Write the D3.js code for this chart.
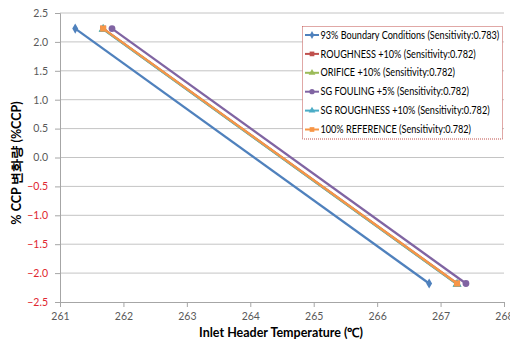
<!DOCTYPE html>
<html>
<head>
<meta charset="utf-8">
<script src="https://cdn.jsdelivr.net/npm/d3@7/dist/d3.min.js"></script>
<style>
  html, body { margin: 0; padding: 0; background: #fff; }
  svg { display: block; }
</style>
</head>
<body>
<svg id="chart" width="510" height="344"></svg>
<script>
// Series: CCP change (%) against inlet header temperature (°C)
const seriesNames = [
  "93% Boundary Conditions (Sensitivity:0.783)",
  "ROUGHNESS +10% (Sensitivity:0.782)",
  "ORIFICE +10% (Sensitivity:0.782)",
  "SG FOULING +5% (Sensitivity:0.782)",
  "SG ROUGHNESS +10% (Sensitivity:0.782)",
  "100% REFERENCE (Sensitivity:0.782)"
];
const seriesTemps = [
  [261.24, 266.82],
  [261.68, 267.26],
  [261.68, 267.26],
  [261.82, 267.40],
  [261.68, 267.26],
  [261.68, 267.26]
];
const seriesCCP = [
  [2.23, -2.18],
  [2.23, -2.18],
  [2.22, -2.19],
  [2.23, -2.18],
  [2.22, -2.19],
  [2.23, -2.18]
];
const seriesColors = ["#4F81BD", "#C0504D", "#9BBB59", "#8064A2", "#4BACC6", "#F79646"];
const seriesMarkers = ["diamond", "square", "triangle", "circle", "triangle", "square"];

const xTicks = [261, 262, 263, 264, 265, 266, 267, 268];
const yTicks = [2.5, 2.0, 1.5, 1.0, 0.5, 0.0, -0.5, -1.0, -1.5, -2.0, -2.5];

const xTitle = "Inlet Header Temperature (℃)";
const yTitle = "% CCP 변화량 (%CCP)";

const svg = d3.select("#chart");
const font = "Lato, 'Liberation Sans', sans-serif";

const plot = { left: 60, right: 504, top: 13, bottom: 302 };
const x = d3.scaleLinear().domain([261, 268]).range([plot.left, plot.right]);
const y = d3.scaleLinear().domain([-2.5, 2.5]).range([plot.bottom, plot.top]);

// horizontal gridlines
svg.append("g").selectAll("line").data(yTicks.filter(v => v !== -2.5)).join("line")
  .attr("x1", plot.left).attr("x2", plot.right)
  .attr("y1", d => y(d)).attr("y2", d => y(d))
  .attr("stroke", "#c4c4c4").attr("stroke-width", 1);

// y axis
const yAxis = svg.append("g").attr("transform", `translate(${plot.left},0)`)
  .call(d3.axisLeft(y).tickValues(yTicks).tickFormat(d3.format(".1f")).tickSize(5).tickPadding(7));
yAxis.select(".domain").attr("stroke", "#a6a6a6");
yAxis.selectAll(".tick line").attr("stroke", "#a6a6a6");
yAxis.selectAll(".tick text")
  .attr("font-family", font).attr("font-size", 10.5)
  .attr("fill", d => d < 0 ? "#e0262f" : "#595959");

// x axis
const xAxis = svg.append("g").attr("transform", `translate(0,${plot.bottom})`)
  .call(d3.axisBottom(x).tickValues(xTicks).tickFormat(d3.format("d")).tickSize(5).tickPadding(6));
xAxis.select(".domain").attr("stroke", "#a6a6a6");
xAxis.selectAll(".tick line").attr("stroke", "#a6a6a6");
xAxis.selectAll(".tick text")
  .attr("font-family", font).attr("font-size", 10.5).attr("fill", "#595959");

// axis titles
svg.append("text")
  .attr("x", 281).attr("y", 337)
  .attr("text-anchor", "middle")
  .attr("font-family", font).attr("font-size", 12.5).attr("font-weight", "bold")
  .attr("fill", "#000")
  .text(xTitle);

svg.append("text")
  .attr("transform", "translate(21,163) rotate(-90)")
  .attr("text-anchor", "middle")
  .attr("font-family", font).attr("font-size", 12.5).attr("font-weight", "bold")
  .attr("fill", "#000")
  .text(yTitle);

// marker shapes
const symbolFor = {
  diamond: d3.symbol().type(d3.symbolDiamond).size(30),
  square: d3.symbol().type(d3.symbolSquare).size(36),
  triangle: d3.symbol().type(d3.symbolTriangle).size(34),
  circle: d3.symbol().type(d3.symbolCircle).size(36)
};

const line = d3.line().x(d => x(d[0])).y(d => y(d[1]));

// draw order puts the reference on top of the coincident series
const order = [3, 0, 1, 2, 4, 5];
order.forEach(i => {
  const pts = seriesTemps[i].map((t, k) => [t, seriesCCP[i][k]]);
  const g = svg.append("g");
  g.append("path").datum(pts)
    .attr("d", line)
    .attr("fill", "none")
    .attr("stroke", seriesColors[i])
    .attr("stroke-width", 2.25);
  g.selectAll("path.m").data(pts).join("path")
    .attr("class", "m")
    .attr("transform", d => `translate(${x(d[0])},${y(d[1])})`)
    .attr("d", symbolFor[seriesMarkers[i]]())
    .attr("fill", seriesColors[i]);
});

// legend
const lg = svg.append("g");
lg.append("rect")
  .attr("x", 302.5).attr("y", 26.5).attr("width", 200).attr("height", 112.5)
  .attr("fill", "#fff")
  .attr("stroke", "#c0504d").attr("stroke-width", 1).attr("stroke-dasharray", "1,1");

const legendMarker = {
  diamond: d3.symbol().type(d3.symbolDiamond).size(18),
  square: d3.symbol().type(d3.symbolSquare).size(22),
  triangle: d3.symbol().type(d3.symbolTriangle).size(20),
  circle: d3.symbol().type(d3.symbolCircle).size(22)
};

const labels = [];
seriesNames.forEach((name, i) => {
  const cy = 35 + i * 18.9;
  lg.append("line")
    .attr("x1", 305).attr("x2", 319).attr("y1", cy).attr("y2", cy)
    .attr("stroke", seriesColors[i]).attr("stroke-width", 2);
  lg.append("path")
    .attr("transform", `translate(312,${cy})`)
    .attr("d", legendMarker[seriesMarkers[i]]())
    .attr("fill", seriesColors[i]);
  labels.push(lg.append("text")
    .attr("transform", `translate(320.5,${cy + 3.6})`)
    .attr("font-family", font).attr("font-size", 10.5)
    .attr("fill", "#000")
    .text(name));
});

// condense the legend labels so the longest fits inside the box
const widest = d3.max(labels, t => t.node().getComputedTextLength());
const k = Math.min(1, 179 / widest);
labels.forEach((t, i) => {
  const cy = 35 + i * 18.9;
  t.attr("transform", `translate(320.5,${cy + 3.6}) scale(${k},1)`);
});
</script>
</body>
</html>
